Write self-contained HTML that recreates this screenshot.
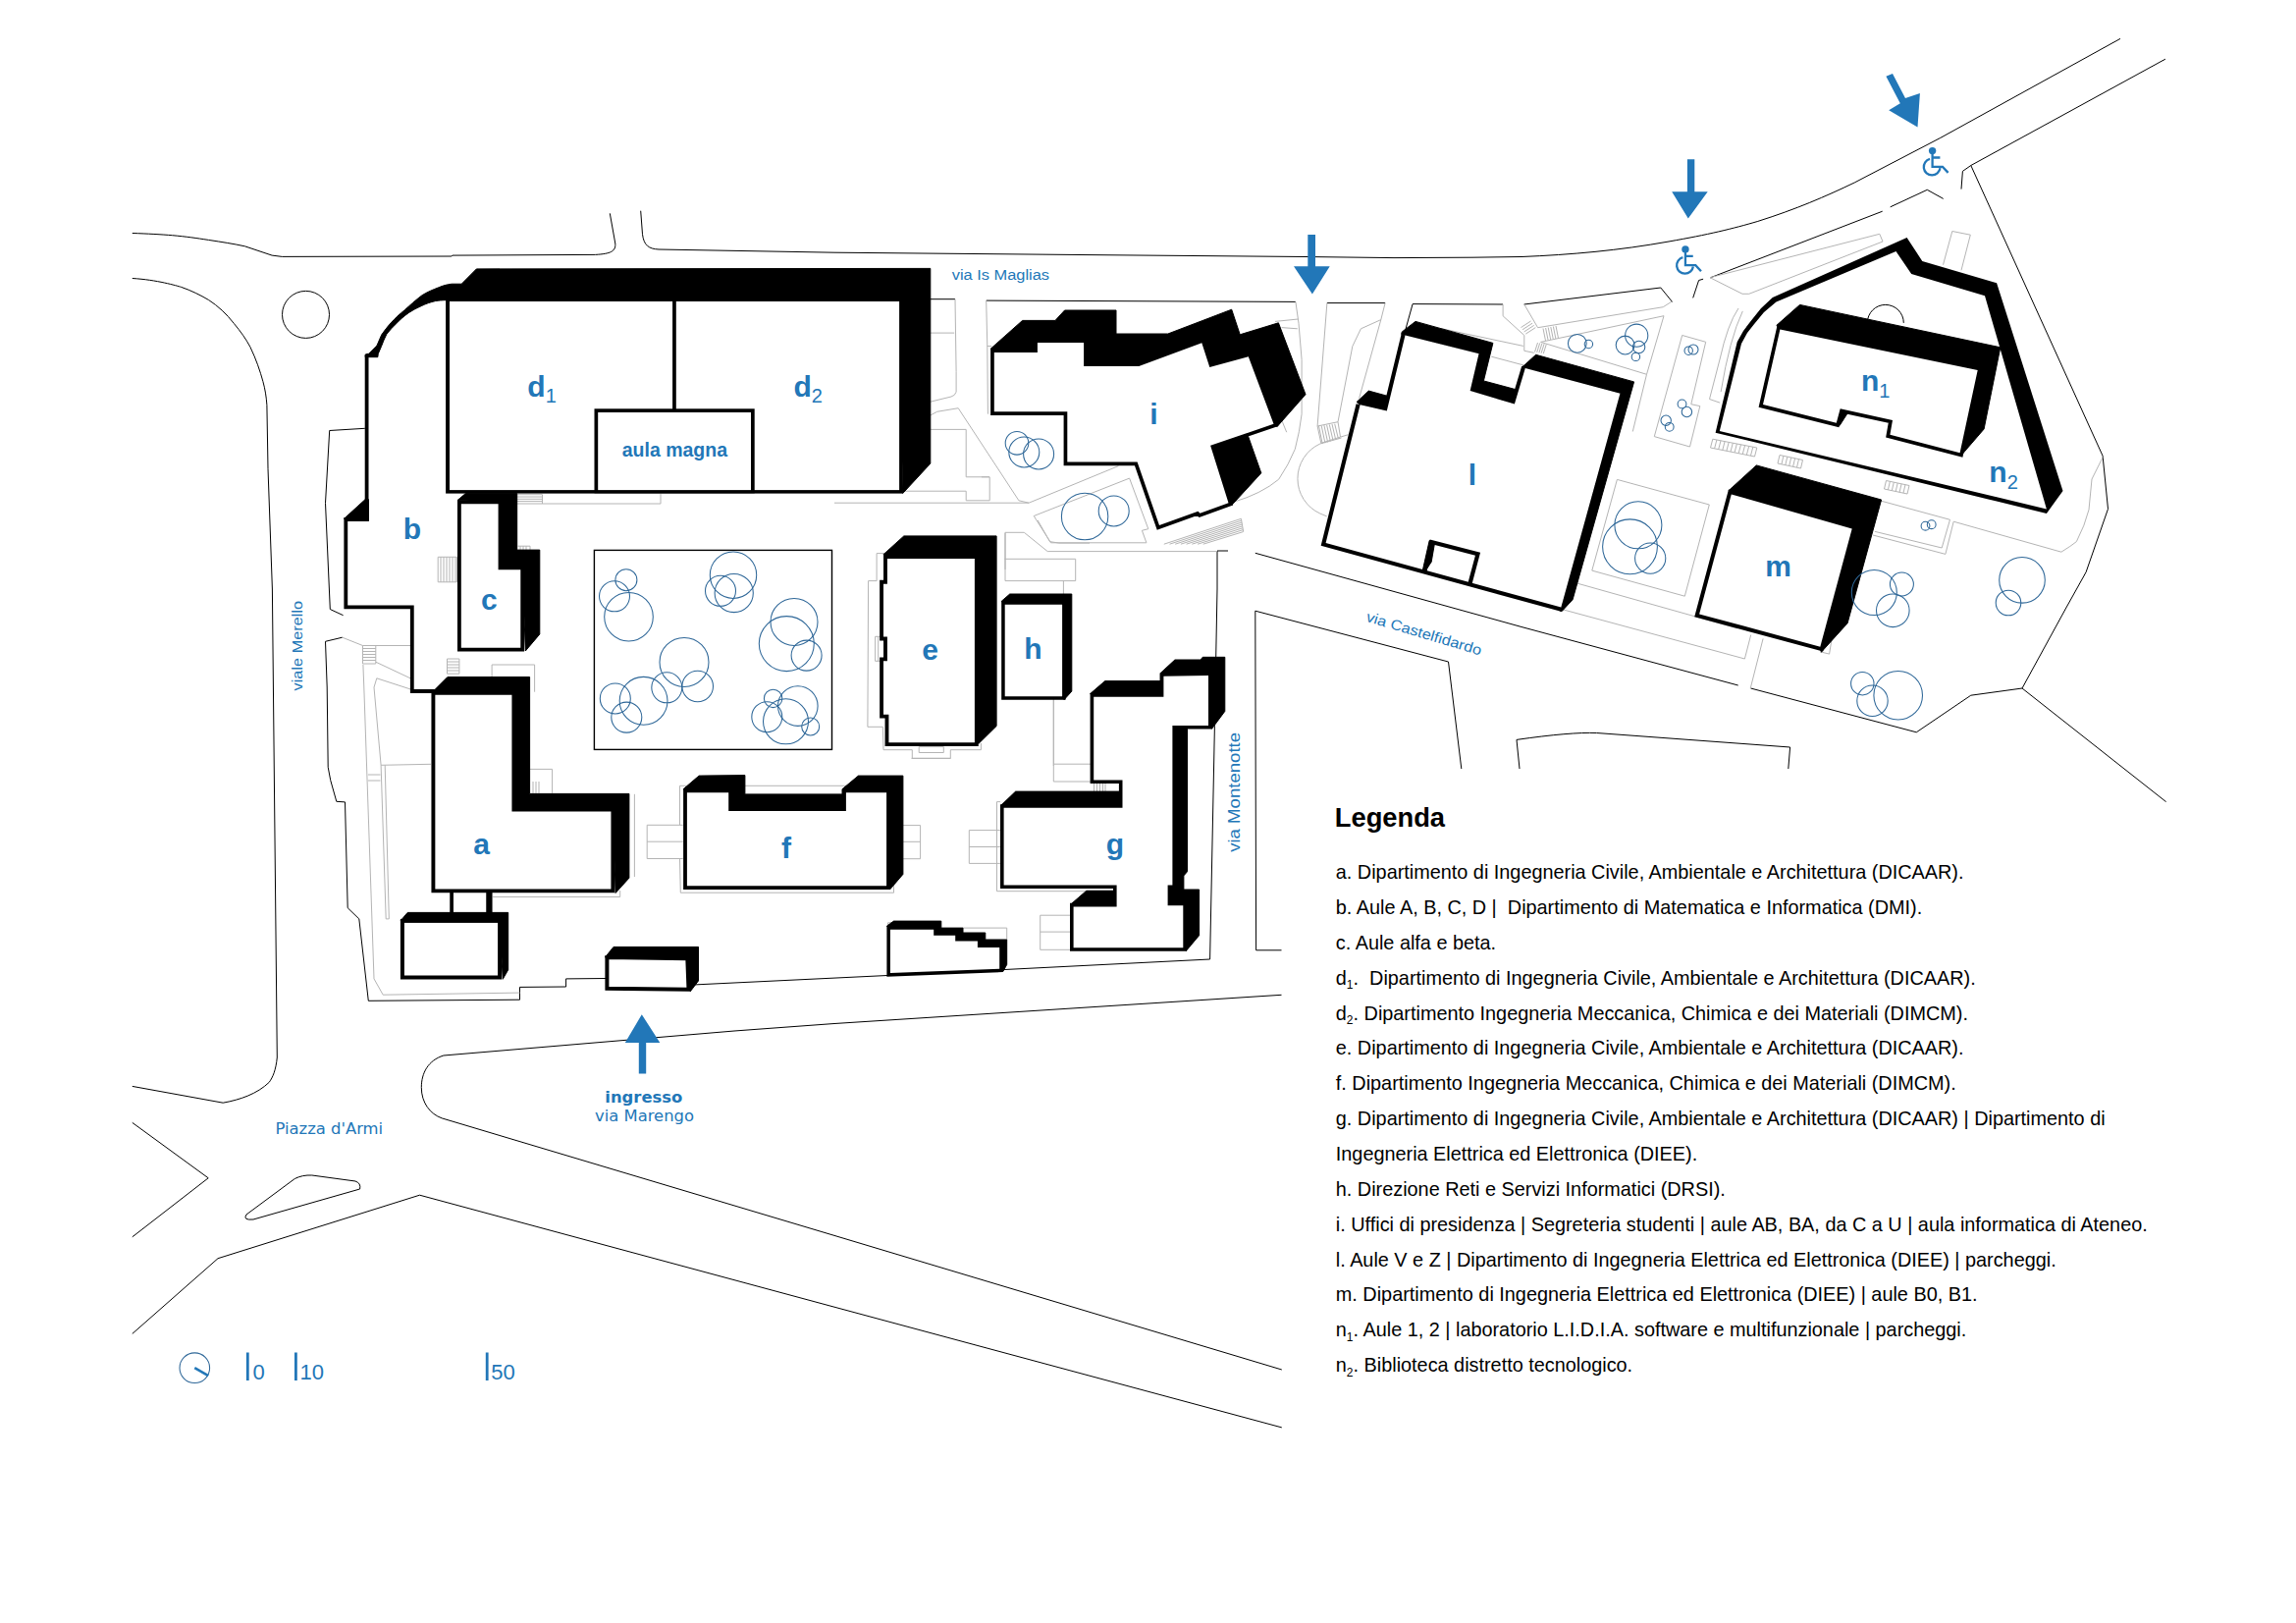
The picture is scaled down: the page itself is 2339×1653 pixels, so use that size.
<!DOCTYPE html>
<html lang="it">
<head>
<meta charset="utf-8">
<title>Mappa Facoltà di Ingegneria</title>
<style>
html,body{margin:0;padding:0;background:#fff;}
body{width:2339px;height:1653px;overflow:hidden;position:relative;font-family:"Liberation Sans",sans-serif;}
svg{position:absolute;left:0;top:0;display:block;}
.rd{fill:none;stroke:#000;stroke-width:1;}
.gl{fill:none;stroke:#b4b4b4;stroke-width:1;}
.sh{fill:#000;stroke:#000;stroke-width:1;stroke-linejoin:miter;}
.bw{fill:#fff;stroke:#000;stroke-width:4;stroke-linejoin:miter;}
.tr{fill:none;stroke:#2e6798;stroke-width:1.05;}
.bl{fill:#2277b8;}
.lab{font-family:"Liberation Sans",sans-serif;font-weight:bold;font-size:30px;fill:#2277b8;text-anchor:middle;}
.st{font-family:"Liberation Sans",sans-serif;font-size:15px;fill:#2277b8;}
.dv{font-family:"DejaVu Sans",sans-serif;fill:#2277b8;text-anchor:middle;}
.lg{font-family:"Liberation Sans",sans-serif;font-size:19.7px;fill:#000;white-space:pre;}
</style>
</head>
<body>
<svg width="2339" height="1653" viewBox="0 0 2339 1653">
<rect x="0" y="0" width="2339" height="1653" fill="#fff"/>

<!-- ROADS -->
<g class="rd" id="roads">
<path d="M134.8,237.5 C150,238 165,238.8 175.5,239.7 C190,241 200,242.5 212.4,244.4 C226,246.5 238,248.3 249.4,250.8 L277.1,260.1 L287.3,261.4 L460.1,261 L461,260.1 L606.5,259.4 C622,258.5 627.5,256 626.8,248 L621.3,217.3"/>
<path d="M652.7,214.7 L654.5,238.7 C656,250 661,253.5 671,254 L850,257.2 L1100,259.5 L1330,261.5 L1420,262.6 L1500,262.2 L1550,261.5 C1600,259.5 1650,255 1700,246 C1740,239 1765,233 1790.8,225.4 C1830,213 1860,200 1889.2,186 L1976.8,140.4 L2160,39.4"/>
<path d="M134.8,283.5 C160,285 180,291 184.7,292.4 C195,296 204,300.5 212.4,305.4 C222,311.5 231,320 238.3,329.4 C245,337.5 250.5,345 254.9,353.4 C261,366 265,378 267.9,388.5 C270,396 271.3,404 271.9,412.6 L273,477.3 L277.4,600 L282.3,1077 C281,1090 278,1097 274.2,1102.3 C262,1114 245,1120 227.2,1123.2 L134.8,1106.4"/>
<path d="M134.8,1143.4 L212.2,1199.8 L134.8,1259.8"/>
<path d="M300.3,1200.5 Q308,1196.5 317.8,1197 L362,1203 Q368,1205 366.6,1211 L258,1242 Q247,1243 251,1237 Z"/>
<path d="M134.8,1358.4 L222,1281.7 L427.5,1217.2 L850,1331.2 L1305.8,1453.9"/>
<path d="M1305.5,1013.3 L850,1042.5 L748,1050 L451.9,1075 C436,1080 429.3,1093 429.3,1107.5 C429.3,1123 438,1134.5 450.2,1138.9 L850,1258.4 L1305.8,1395"/>
<path d="M371.8,436.3 L335.7,438.5 L331.5,512.4 L336.3,620.5 L349.6,626.7"/>
<path d="M348.7,649.2 L331.5,653.3"/>
<path d="M331.5,653.3 L333.2,700 L334.2,781.3 L336.7,794.6 L342.8,816.3 L351.5,816.9 L354.2,924.7 L365.8,935.9 L375.3,1019.3 L529.5,1018.2 L529.5,1005.4 L576.6,1005 L576.6,996.9 L617,996.5"/>
<path d="M706,1003 L900,993.7 L1232.6,977 L1237.4,739.7 L1240,600 L1240,561 L1251,561"/>
<path d="M1278.8,563.3 L1550,638.5 L1770.7,698"/>
<path d="M1305.5,967.8 L1279.6,967.8 L1278.8,622.2 L1475.5,674 L1488.8,783"/>
<path d="M1548,783 L1545,753.4 Q1600,745.5 1626.6,746.5 L1823.6,761 L1821.8,783"/>
<path d="M1783.5,701 L1952.3,745.8 L2007.8,708.2 L2060,701 L2104.3,620 L2125.1,582.7 L2147.5,518.3 L2142.1,464.3 L2007.8,168.5 L2205.9,60.2"/>
<path d="M2060,701 L2206.6,816.6"/>
<path d="M2007.8,168.5 L1999.4,174.4 L1998,192.6"/>
<path d="M1724.7,303.4 L1730.6,285.5 L1735.1,284.2 M1742.2,282.9 L1917.7,215.2"/>
<path d="M1925.7,210.8 L1963.3,193.3 L1979.7,202.4"/>
<path d="M1552.6,310 L1691.8,293 L1703.6,307.5"/>
<path d="M1351.9,308.6 L1411.1,308.6 M1431.4,337.3 L1439.1,309.6 L1531,310"/>
<path d="M947.8,304.7 L973,304.7 M1004.8,306.1 L1319.9,307.4"/>
<circle cx="311.5" cy="320.4" r="24"/>
</g>


<!-- GRAY DETAILS -->
<g class="gl" id="gray">
<path d="M348.7,649.2 L369.5,657.5 L418,657.5 M382.8,674.2 L418,690.8 M369.9,677 L370.8,700 L381,996.9 L390.2,1013.2 L529.5,1011.1 M383.8,690.8 L418,701.9 M383.8,690.8 L381,700 L388.1,779.3 L439,778.3"/>
<path d="M388.1,779.3 L393.2,935.9 L396.3,935.9 L392.2,779.3 M374.9,789 L387.5,789 M374.9,795 L387.5,795"/>
<path d="M369.5,657.5 L382.8,657.5 L382.8,676 L369.5,676 Z M369.5,660.5 H382.8 M369.5,663.5 H382.8 M369.5,666.5 H382.8 M369.5,669.5 H382.8 M369.5,672.5 H382.8"/>
<path d="M446.2,567.3 H465.5 V592.8 H446.2 Z M449,567.3 V592.8 M452,567.3 V592.8 M455,567.3 V592.8 M458,567.3 V592.8 M461,567.3 V592.8 M464,567.3 V592.8"/>
<path d="M455.5,671 H467.9 V686.2 H455.5 Z M455.5,674 H467.9 M455.5,677 H467.9 M455.5,680 H467.9 M455.5,683 H467.9"/>
<path d="M527.6,556.2 H540 V560 M530,556.2 V560 M533,556.2 V560 M536,556.2 V560"/>
<path d="M527,503.7 H552.5 V513 M527,506 H552.5 M527,508.3 H552.5 M527,510.6 H552.5 M527,513 H673 V503"/>
<path d="M501.1,704.7 V677 H544.6 V704.7"/>
<path d="M539.6,783.4 H562.6 V807.8 M543,796 V807.8 M546,796 V807.8 M549,796 V807.8"/>
<path d="M502,913.5 H631.7 V907"/>
<path d="M646.4,808.8 V893"/>
<path d="M695.8,840.3 H659.2 V874.5 H695.8 M659.2,857.2 H695.8"/>
<path d="M903.1,563.6 H893.1 V591.6 H884.6 L883.9,740.3 H899.3 L900,763.7 H929.3 V772.3 H968.3 V763.7 H999.4 V757 M936.2,760.6 H961.3 M936.2,766.5 H961.3 M936.2,760.6 V766.5 M961.3,760.6 V766.5 M891.6,648.3 H899 M891.6,673.3 H899 M891.6,648.3 V673.3 M894.7,648.3 V673.3 M1024,591.6 V542.3 H1043.3 L1067.2,561.6 H1240 M1023.3,569.3 H1095.7 V591.6 H1024 M1083.4,591.6 V605 M1073.3,712.6 V780 M1057.2,530 L1069.5,551.6 L1078.7,553.1 H1110 M973,304.7 L974.1,378.4 V399.2 Q973,403 969,404 L947.8,409.2 M947.8,339.1 H972.2 M947.8,423 L954.6,419.3 L976.2,415.7 L1037.9,509.8 L1048.1,512.2 L1139.4,474.6 M947.8,437.4 H984.2 V485.8 H1008.2 V509.8 H984.2 V500.2 H920.9 M850,512.2 H1048.1 M1004.7,306 L1005.8,352.8 L1006.4,421.7 M1005.6,352.5 H1010 M1000,485.8 H1008 M1053.2,525.5 L1150.6,487.1 L1169.8,538.7 L1163.4,540.3 L1167.9,552.8 H1070.5 Z M1024,580 V542.7 M1319.9,307.4 L1323,329.3 L1326.1,366.3 V421.7 Q1324,440 1319.3,457.4 Q1313,473 1302.7,488.2 Q1285,503 1256.3,511.4 M1299,327.4 L1322.4,325 M1305.7,333.6 L1321.8,334.8 M1305.7,427.9 L1310.7,440.2 M1185.8,554.2 L1264.4,528.3 M1191.5,554.2 L1264.7,530.2 M1197.2,554.2 L1265.0,532.1 M1202.9,554.2 L1265.3,534.0 M1208.6,554.2 L1265.6,535.9 M1214.3,554.2 L1265.9,537.8 M1220.0,554.2 L1266.2,539.7 M1225.7,554.2 L1266.5,541.6 M1264.4,528.3 L1266.7,541.6  M1351.7,525.9 L1344.8,523 A39,39 0 0 1 1344.8,452 L1366.5,446 M1351.9,308.6 L1342.1,434 L1363,429.7 L1377.8,352.7 L1386.4,334.8 L1406.8,325.6 L1411.1,308.6 M1406.8,325.6 L1384.6,405.7 M1365.5,445.1 L1373.5,442.7 M1342.1,434 L1345.8,451.3 L1365.5,445.1 L1363,429.7 M1343.5,433.8 L1347.2,452.1 M1346.2,433.5 L1349.9,451.2 M1348.9,433.1 L1352.6,450.4 M1351.6,432.8 L1355.3,449.5 M1354.3,432.4 L1358.0,448.6 M1357.0,432.0 L1360.7,447.7 M1359.7,431.7 L1363.4,446.8 M1531.1,310 V321.8 L1552.8,341.5 V357.3 L1562.7,359.3 M1552.8,310 L1566.6,333.7 L1694.3,312.7 L1703.4,306.9 M1569.6,348.4 L1695,321.7 L1677.5,381.3 L1663.3,439.5 M1569.6,348.4 L1677.5,381.3 M1468,334.6 L1551.8,352.4 M1519.3,363.2 L1552.8,372.1 M1572.0,334.5 L1574.5,347.0 M1574.6,334.0 L1577.1,346.5 M1577.2,333.5 L1579.7,346.0 M1579.8,333.0 L1582.3,345.5 M1582.4,332.5 L1584.9,345.0 M1585.0,332.0 L1587.5,344.5 M1566.5,349.0 L1563.5,358.5 M1568.7,349.4 L1565.7,358.9 M1570.9,349.8 L1567.9,359.3 M1573.1,350.2 L1570.1,359.7 M1575.3,350.6 L1572.3,360.1 M1549.5,333.5 L1559.5,327.0 M1551.1,335.7 L1561.1,329.2 M1552.7,337.9 L1562.7,331.4 M1554.3,340.1 L1564.3,333.6 M1713.7,341.5 L1737.7,348.3 L1722.8,411.7 L1731.8,413.6 L1721.5,455 L1685.3,444.6 Z M1647.4,488.4 L1741.3,514 L1716.3,607.2 L1621.8,581.1 Z M1606,593.9 L1770,640 M1775.3,316.9 Q1762,345 1753.1,399.1 M1741.5,406.5 L1752.2,410.2 M1741.5,406.5 L1752,366 Q1760,330 1771,314 M1742,282.7 L1914.8,238.3 L1918,246 L1781.8,299.3 L1775,299.3 Z M1988.8,235.5 L2007.3,239.2 L1998,275.3 M1979.5,269.7 L1988.8,235.5 M1744.8,447.2 L1789.8,456 L1787.5,465 L1742.5,456 Z M1748.9,448.0 L1746.6,456.8 M1753.0,448.8 L1750.7,457.6 M1757.1,449.6 L1754.8,458.4 M1761.2,450.4 L1758.9,459.2 M1765.3,451.2 L1763.0,460.0 M1769.4,452.0 L1767.1,460.8 M1773.5,452.8 L1771.2,461.6 M1777.6,453.6 L1775.3,462.4 M1781.7,454.4 L1779.4,463.2 M1785.8,455.2 L1783.5,464.0 M1813,463.5 L1836.5,468.5 L1834.5,477 L1811,472 Z M1816.9,464.3 L1814.9,472.8 M1820.8,465.2 L1818.8,473.7 M1824.7,466.0 L1822.7,474.5 M1828.6,466.8 L1826.6,475.3 M1832.5,467.6 L1830.5,476.1 M1921.5,489.5 L1945,494.5 L1943,503 L1919.5,498 Z M1925.4,490.3 L1923.4,498.8 M1929.3,491.2 L1927.3,499.7 M1933.2,492.0 L1931.2,500.5 M1937.1,492.8 L1935.1,501.3 M1941.0,493.6 L1939.0,502.1 M1783.2,701.2 L1796.1,650.4 M1592.1,620.8 L1777.4,671 L1783.7,646.6 M1915.3,509.9 L1986.5,529.3 L1978.2,558 L1909.8,541.3 M1990.2,531.2 L1981.9,564.4 L1908,545 M1990.2,531.2 L2099.9,562.2 Q2110,556 2115.4,551.6 Q2124,535 2128,519.1 L2131,488 L2142.1,465.8 M1866.4,648.5 L1863.6,666.1 L1855,664 M699,800.3 H692.5 V840.1 M692.5,874.6 L693.3,909.2 H910.5 V901.7 M758.9,800.3 H862.7 M919.9,840.6 H937.6 V874.7 H919.9 M919.9,857.3 H937.6 M1020,845.6 H987.3 V879.4 H1020 M987.3,862.5 H1020 M1019,816.6 H1015.5 V907.7 H1137 M904.5,943 V939.8 H912 M981,945.1 H1025.7 V957 M928.5,772.4 H968.5 M1073.3,711.8 V796 H1111 M1073.3,778.2 H1111 M1059.7,932.2 H1091 M1059.7,932.2 V967.3 H1091 M1059.7,949.1 H1091 M1114.5,798 V806 M1117.5,798 V806 M1120.5,798 V806 M1123.5,798 V806 M1126,798 V806"/>
</g>

<!-- BUILDINGS -->
<g id="buildings">
<!-- d -->
<path class="sh" d="M372.2,361 L375.7,360.2 L384,351.9 L388.7,341 C391.5,337 394.5,333 398.3,328.8 C402.5,324 407,320 412.3,315.7 C417.5,311 423,306 429.7,300.9 C435,297.5 441,295 447.1,292.7 C451,291 455,289.8 460.2,289.2 L470.2,289.2 L485.4,273.9 L947.8,273.4 L947.8,472.1 L919.6,502.6 L916.1,307 L454.1,305.7 C450,305.8 447,306 443.6,306.6 C438.5,307.8 434,309.3 429.7,311.4 C425,313.5 420.5,315.8 416.6,318.4 C411.5,322 407.5,325.5 403.6,329.7 C400,333 397,336.5 394,340.1 C392,344 390.2,348 388.7,352.3 L385.3,360.2 L384.8,363.7 L372.2,363.7 Z"/>
<rect x="454.1" y="305" width="465" height="197.6" fill="#000"/>
<rect x="458" y="307" width="458.1" height="192.1" fill="#fff"/>
<rect x="685.1" y="307" width="3.7" height="112" fill="#000"/>
<rect x="605.5" y="416.3" width="163.2" height="86" fill="#000"/>
<rect x="609.2" y="420" width="155.8" height="79.1" fill="#fff"/>
<!-- b -->
<path class="sh" d="M372,508.7 L350.5,528.3 L375.5,530.5 L375.5,508.7 Z"/>
<path d="M373.6,361.8 L373.6,529 L352.3,529 L352.3,618.3 L419.8,618.3 L419.8,704 L443,704" fill="none" stroke="#000" stroke-width="3.8"/>
<!-- c -->
<path class="sh" d="M466,509.6 L474.3,502.6 L526.7,502.6 L526.7,560.1 L549.8,560.1 L549.8,645.9 L535.3,663 L532.2,578.4 L509.5,578.4 L509.5,511.3 Z"/>
<path class="bw" style="stroke-width:3.8" d="M467.9,511.4 L509.5,511.4 L509.5,578.4 L532.2,578.4 L532.2,661.7 L467.9,661.7 Z"/>
<!-- a -->
<path class="sh" d="M441.4,704 L455.9,689.5 L539.6,689.5 L539.6,808.4 L640.9,808.4 L640.9,894.2 L627.1,909.5 L624.4,824.5 L523.4,824.5 L523.4,705.7 Z"/>
<path class="bw" style="stroke-width:3.9" d="M441.4,705.7 L523.4,705.7 L523.4,824.5 L624.4,824.5 L624.4,907.4 L441.4,907.4 Z"/>
<path d="M460.1,907 L460.1,932" stroke="#000" stroke-width="3.7" fill="none"/><path d="M498.4,907 L498.4,932" stroke="#000" stroke-width="6.3" fill="none"/>
<path class="sh" d="M408,937.9 L415.2,929.4 L517.7,929.4 L517.7,987.7 L512.2,997.3 L509.1,937.9 Z"/>
<rect class="bw" x="409.9" y="937.9" width="99.2" height="57.6"/>
<path class="sh" d="M616.5,975 L625,964.4 L711.5,964.4 L711.5,998.9 L703.3,1009.7 L700.3,976.2 Z"/>
<path class="bw" d="M618.4,975 L700.3,976.2 L701.5,1007.7 L618.4,1006.7 Z"/>
<!-- f -->
<path class="sh" d="M696.1,803.7 L712.1,790.1 L758.9,789.6 L758.9,808.9 L858,808.9 L858,803.7 L874.4,790.1 L919.9,790.1 L919.9,890.4 L906.6,905.9 L903.1,902.2 L903.1,807.2 L861.9,807.2 L861.9,826 L742.2,826 L742.2,807.2 L699.9,807.2 Z"/>
<path d="M699.9,807.2 L742.2,807.2 L742.2,826 L861.9,826 L861.9,807.2 L903.1,807.2 L903.1,902.2 L699.9,902.2 Z" fill="#000" stroke="#000" stroke-width="7.6" stroke-linejoin="miter" stroke-miterlimit="6"/>
<path d="M699.9,807.2 L742.2,807.2 L742.2,826 L861.9,826 L861.9,807.2 L903.1,807.2 L903.1,902.2 L699.9,902.2 Z" fill="#fff"/>
<!-- e -->
<path class="sh" d="M900,564.7 L920.8,545.9 L1015.1,545.9 L1015.1,739.5 L997.1,757.2 L992.9,756.2 L992.9,569 L903.9,569 Z"/>
<path d="M903.9,569 L992.9,569 L992.9,756.2 L905.4,756.2 L905.4,727.7 L900,727.7 L900,673.3 L903.9,673.3 L903.9,648.6 L900,648.6 L900,594.7 L903.9,594.7 Z" fill="#000" stroke="#000" stroke-width="7.7" stroke-linejoin="miter" stroke-miterlimit="6"/>
<path d="M903.9,569 L992.9,569 L992.9,756.2 L905.4,756.2 L905.4,727.7 L900,727.7 L900,673.3 L903.9,673.3 L903.9,648.6 L900,648.6 L900,594.7 L903.9,594.7 Z" fill="#fff"/>
<!-- h -->
<path class="sh" d="M1020.2,612.4 L1028.7,605 L1091.8,605 L1091.8,704.1 L1084.1,712.6 L1082.1,709.2 L1082.1,615.8 L1023.7,615.8 Z"/>
<path d="M1023.7,615.8 L1082.1,615.8 L1082.1,709.2 L1023.7,709.2 Z" fill="#000" stroke="#000" stroke-width="7.0" stroke-linejoin="miter" stroke-miterlimit="6"/>
<path d="M1023.7,615.8 L1082.1,615.8 L1082.1,709.2 L1023.7,709.2 Z" fill="#fff"/>
<!-- g -->
<path class="sh" d="M1110.6,706.6 L1125.7,693.6 L1182.2,693.6 L1182.2,685.6 L1196.9,672 L1223.1,672 L1225.2,669.3 L1247.8,669.3 L1247.8,724.4 L1234.6,742.2 L1231,739 L1231,688 L1185.4,688.8 L1185.4,709.7 L1114.2,709.7 Z"/>
<path class="sh" d="M1194.4,739 L1209.5,742.2 L1209.5,887.7 L1205.9,891.9 L1205.9,906 L1221.6,906 L1221.6,952.7 L1208.4,968.4 L1205.3,965.2 L1205.3,922.3 L1189.6,922.3 L1189.6,901.4 L1194.4,901.4 Z"/>
<path class="sh" d="M1019.3,820.7 L1034.6,806.1 L1143.5,806.1 L1143.5,822.8 L1022.6,822.8 Z"/>
<path class="sh" d="M1090.5,921.3 L1106.8,907.2 L1137.6,907.2 L1137.6,923.4 L1093.6,923.4 Z"/>
<path d="M1114.2,709.7 L1185.4,709.7 L1185.4,688.8 L1231,688 L1231,739 L1194.4,739 L1194.4,901.4 L1189.6,901.4 L1189.6,922.3 L1205.3,922.3 L1205.3,965.2 L1093.6,965.2 L1093.6,923.4 L1137.6,923.4 L1137.6,901.4 L1022.6,901.4 L1022.6,822.8 L1143.5,822.8 L1143.5,794.5 L1114.2,794.5 Z" fill="#000" stroke="#000" stroke-width="7.2" stroke-linejoin="miter" stroke-miterlimit="6"/>
<path d="M1114.2,709.7 L1185.4,709.7 L1185.4,688.8 L1231,688 L1231,739 L1194.4,739 L1194.4,901.4 L1189.6,901.4 L1189.6,922.3 L1205.3,922.3 L1205.3,965.2 L1093.6,965.2 L1093.6,923.4 L1137.6,923.4 L1137.6,901.4 L1022.6,901.4 L1022.6,822.8 L1143.5,822.8 L1143.5,794.5 L1114.2,794.5 Z" fill="#fff"/>
<!-- stepped -->
<path class="sh" d="M903.4,943.2 L910.5,938.1 L958.8,938.1 L958.8,945.1 L981,945.1 L981,950 L1003.8,950 L1003.8,957 L1025.7,957 L1025.7,982.4 L1021.8,989.5 L1018.2,986.7 L1018.2,964.9 L995.9,964.9 L995.9,958.6 L973.2,958.6 L973.2,952.7 L951.2,952.7 L951.2,946.7 L906.9,946.7 Z"/>
<path d="M906.9,946.7 L951.2,946.7 L951.2,952.7 L973.2,952.7 L973.2,958.6 L995.9,958.6 L995.9,964.9 L1018.2,964.9 L1018.2,986.7 L906.9,991.1 Z" fill="#000" stroke="#000" stroke-width="7.0" stroke-linejoin="miter" stroke-miterlimit="6"/>
<path d="M906.9,946.7 L951.2,946.7 L951.2,952.7 L973.2,952.7 L973.2,958.6 L995.9,958.6 L995.9,964.9 L1018.2,964.9 L1018.2,986.7 L906.9,991.1 Z" fill="#fff"/>
<!-- i -->
<path class="sh" d="M1009.1,355.3 L1041.6,326.4 L1075,326.4 L1084.6,316 L1137,316 L1137,340 L1189.8,340 L1254.7,315.2 L1263.2,340.8 L1302.4,328.8 L1330,401.7 L1301.1,434.5 L1297.5,431.7 L1271.8,363.3 L1232.3,374 L1224.3,349.3 L1160.2,372.9 L1104.1,372.9 L1104.1,348.9 L1056.9,348.9 L1056.9,358.9 L1012.8,358.9 Z"/>
<path class="sh" d="M1233.1,453.8 L1271.5,444.2 L1284.8,481.8 L1254.7,514.6 L1251.5,512.2 Z"/>
<path d="M1012.8,358.9 L1056.9,358.9 L1056.9,348.9 L1104.1,348.9 L1104.1,372.9 L1160.2,372.9 L1224.3,349.3 L1232.3,374 L1271.8,363.3 L1297.5,431.7 L1233.1,453.8 L1251.5,512.2 L1222.5,522.8 L1220.5,520.8 L1181,535.1 L1158.6,470.6 L1087.3,470.6 L1087.3,419.3 L1012.8,419.3 Z" fill="#000" stroke="#000" stroke-width="7.4" stroke-linejoin="miter" stroke-miterlimit="6"/>
<path d="M1012.8,358.9 L1056.9,358.9 L1056.9,348.9 L1104.1,348.9 L1104.1,372.9 L1160.2,372.9 L1224.3,349.3 L1232.3,374 L1271.8,363.3 L1297.5,431.7 L1233.1,453.8 L1251.5,512.2 L1222.5,522.8 L1220.5,520.8 L1181,535.1 L1158.6,470.6 L1087.3,470.6 L1087.3,419.3 L1012.8,419.3 Z" fill="#fff"/>
<!-- l -->
<path class="sh" d="M1431.5,341.5 L1427.6,340.4 L1428.3,337.9 L1442,327.4 L1520.9,349.4 L1511.4,387.9 L1547.9,397.7 L1542.9,411.5 L1497.6,398.1 L1506.5,360.3 Z"/>
<path class="sh" d="M1553.8,375.1 L1550,374 L1552.8,372.1 L1564.6,361.3 L1664.6,388.9 L1602.1,610.7 L1591.2,622.5 L1589.3,622.4 L1590.3,618.6 L1650.4,400.7 Z"/>
<path class="sh" d="M1382.1,409.4 L1394.3,398.1 L1413.8,403.4 L1412.8,418.5 L1385.6,412.2 Z"/>
<path d="M1412.8,418.5 L1431.5,341.5 M1385.6,412.2 L1350.6,552.9 L1590.3,618.6 M1542.9,411.5 L1553.8,375.1" fill="none" stroke="#000" stroke-width="8.2" stroke-linejoin="miter" stroke-linecap="butt"/>
<path d="M1431.5,341.5 L1506.5,360.3 L1497.6,398.1 L1542.9,411.5 L1553.8,375.1 L1650.4,400.7 L1590.3,618.6 L1350.6,552.9 L1385.6,412.2 L1412.8,418.5 Z" fill="#fff"/>
<path d="M1451.4,581.8 L1458.3,552 L1505.5,564.3 L1497.6,593.9" fill="none" stroke="#000" stroke-width="4.2"/>
<path class="sh" d="M1449.3,581.1 L1456.2,550.5 L1461.7,552.1 L1458.2,572.2 L1451.8,582.1 Z"/>
<!-- m -->
<path class="sh" d="M1761,499.7 L1789.3,473.9 L1916.6,509 L1882.1,634.7 L1855.3,664.3 L1854.3,658.7 L1886.7,538.6 L1763.8,503.4 Z"/>
<path d="M1763.8,503.4 L1886.7,538.6 L1854.3,658.7 L1731.1,625.4 Z" fill="#000" stroke="#000" stroke-width="8.0" stroke-linejoin="miter" stroke-miterlimit="6"/>
<path d="M1763.8,503.4 L1886.7,538.6 L1854.3,658.7 L1731.1,625.4 Z" fill="#fff"/>
<!-- n2 -->
<path d="M1747.6,440.7 L1769.7,348.3 L1776,337 L1783.6,327 L1794,314 L1805.8,303 L1942.6,242 L1958.3,266 L2034.1,288.2 L2101.5,499.9 L2084.9,523 Z" fill="#000"/>
<path d="M1931.5,255.9 L1947.2,279 L2022,301.2 L2084.9,518.4 L1751.8,438.9 L1774,350.1 L1780,339 L1787.3,329.8 L1797,318 L1809.5,307.6 Z" fill="#fff"/>
<path class="rd" d="M1902.3,328.9 A18.5,18.5 0 0 1 1939.3,328.9"/>
<!-- n1 -->
<path class="sh" d="M1809.9,331.3 L1833.5,310.4 L2037.8,353.8 L2021.1,437 L1997.1,464.8 L1996.6,461.2 L2014.7,377 L1813.4,335.6 Z"/>
<path class="sh" d="M1874.5,417 L1883,419.5 L1874,433.5 L1871,432.5 Z"/>
<path d="M1813.4,335.6 L2014.7,377 L1996.6,461.2 L1925.4,442.8 L1928,428 L1874.7,416.3 L1870.8,430.7 L1796,412 Z" fill="#000" stroke="#000" stroke-width="7.4" stroke-linejoin="miter" stroke-miterlimit="6"/>
<path d="M1813.4,335.6 L2014.7,377 L1996.6,461.2 L1925.4,442.8 L1928,428 L1874.7,416.3 L1870.8,430.7 L1796,412 Z" fill="#fff"/>
</g>

<!-- GARDEN + TREES -->
<rect class="rd" style="stroke-width:1.4" x="605.4" y="560.4" width="242.1" height="203"/>
<g class="tr" id="trees">
<circle cx="637.9" cy="590.7" r="11"/><circle cx="626" cy="607.3" r="15.5"/><circle cx="640.5" cy="628.2" r="24.8"/>
<circle cx="747" cy="585.7" r="23.7"/><circle cx="734" cy="601.8" r="15.5"/><circle cx="747.7" cy="604" r="19.6"/>
<circle cx="809" cy="633.4" r="24"/><circle cx="801.3" cy="655.6" r="28"/><circle cx="821.6" cy="667.6" r="15.5"/>
<circle cx="697" cy="674.4" r="25"/><circle cx="679.3" cy="700.3" r="15.5"/><circle cx="710.7" cy="699" r="15.8"/>
<circle cx="655.6" cy="713.8" r="24.4"/><circle cx="626.8" cy="711.4" r="15.5"/><circle cx="638.3" cy="730.6" r="15.5"/>
<circle cx="812.8" cy="719.1" r="20.3"/><circle cx="787.6" cy="711.4" r="9.2"/><circle cx="781.3" cy="730.2" r="15.5"/><circle cx="800.5" cy="734.8" r="23"/><circle cx="825.7" cy="740" r="9"/>
<circle cx="1036" cy="451.3" r="11.8"/><circle cx="1043.3" cy="460.5" r="15.5"/><circle cx="1058.1" cy="462.4" r="15.5"/>
<circle cx="1105.1" cy="526" r="23.7"/><circle cx="1134.7" cy="520.4" r="15.5"/>
<circle cx="1606.8" cy="349.8" r="9.4"/><circle cx="1618.4" cy="350.5" r="4.2"/>
<circle cx="1667.2" cy="341.7" r="11.6"/><circle cx="1655.6" cy="351.5" r="9.4"/><circle cx="1669.6" cy="353.5" r="6.2"/><circle cx="1666.4" cy="363.4" r="4.2"/>
<circle cx="1720.2" cy="357.2" r="4.2"/><circle cx="1725" cy="356" r="5"/>
<circle cx="1713.5" cy="411.4" r="4.4"/><circle cx="1718.4" cy="419.5" r="5.2"/>
<circle cx="1697.2" cy="428.2" r="5.2"/><circle cx="1700.7" cy="434.8" r="4.4"/>
<circle cx="1668.9" cy="534.8" r="24"/><circle cx="1660.5" cy="556.8" r="27.9"/><circle cx="1681.2" cy="568.6" r="15.6"/>
<circle cx="1909.3" cy="603.5" r="23"/><circle cx="1937.4" cy="595" r="12"/><circle cx="1928.3" cy="621.8" r="16.8"/>
<circle cx="2060" cy="590.8" r="23.3"/><circle cx="2046" cy="614" r="12.8"/>
<circle cx="1897.3" cy="696.2" r="11.7"/><circle cx="1907.5" cy="713.7" r="15.7"/><circle cx="1933.7" cy="708.2" r="24.8"/>
<circle cx="1961.5" cy="535.7" r="4.4"/><circle cx="1967.7" cy="534.2" r="4.4"/>
</g>

<!-- ARROWS + ICONS -->
<g class="bl" id="arrows">
<path d="M1332.3,239 L1340,239 L1340,271.2 L1354.7,271.2 L1336.9,299.6 L1318,271.2 L1332.3,271.2 Z"/>
<path d="M1718.9,162.3 L1726.3,162.3 L1726.3,195.2 L1739.7,195.2 L1719.8,222.5 L1703.2,195.2 L1718.9,195.2 Z"/>
<path d="M1921.4,77.7 L1928,75.1 L1941,100.1 L1955.9,94.9 L1953.5,129.5 L1924.2,112.2 L1935.8,105.3 Z"/>
<path d="M653.8,1033.3 L672.3,1062 L658.2,1062 L658.2,1093.5 L650.8,1093.5 L650.8,1062 L636.8,1062 Z"/>
</g>
<defs>
<g id="wch">
<circle cx="0" cy="0" r="3.7" fill="#2277b8"/>
<path d="M0,3 L0,16.3 L10.4,16.3 L16,22.3 M0,6.9 L7.8,6.9" fill="none" stroke="#2277b8" stroke-width="2.3"/>
<path d="M-2.6,8.3 A8.4,8.4 0 1 0 7.9,17.6" fill="none" stroke="#2277b8" stroke-width="2.3"/>
</g>
</defs>
<use href="#wch" x="1716.95" y="253.9"/>
<use href="#wch" x="1968.6" y="153.6"/>

<!-- COMPASS + SCALE -->
<circle cx="198.3" cy="1393.2" r="15.3" class="tr"/>
<path d="M198.3,1393.2 L212.2,1401.2" stroke="#2277b8" stroke-width="2.6" fill="none"/>
<g class="bl">
<rect x="250.9" y="1377.5" width="2.8" height="28.5"/>
<rect x="300" y="1377.5" width="2.8" height="28.5"/>
<rect x="494.8" y="1377.5" width="2.8" height="28.5"/>
</g>
<g style="font-family:'Liberation Sans',sans-serif;font-size:22px;fill:#2277b8">
<text x="257.5" y="1405.4">0</text>
<text x="305.5" y="1405.4">10</text>
<text x="500.3" y="1405.4">50</text>
</g>

<!-- LABELS -->
<g class="lab" style="text-anchor:start">
<text x="537.3" y="403.9">d<tspan dy="6.4" style="font-weight:normal;font-size:20px">1</tspan></text>
<text x="808.4" y="403.9">d<tspan dy="6.4" style="font-weight:normal;font-size:20px">2</tspan></text>
<text x="1896" y="398.3">n<tspan dy="6.4" style="font-weight:normal;font-size:20px">1</tspan></text>
<text x="2026.3" y="491.4">n<tspan dy="6.4" style="font-weight:normal;font-size:20px">2</tspan></text>
</g>
<g class="lab">
<text x="419.8" y="548.5">b</text>
<text x="498.4" y="621.3">c</text>
<text x="490.6" y="869.9">a</text>
<text x="800.9" y="874.3">f</text>
<text x="947.5" y="672.4">e</text>
<text x="1052.4" y="670.5">h</text>
<text x="1175.5" y="431.7">i</text>
<text x="1500" y="494.4">l</text>
<text x="1136" y="870">g</text>
<text x="1811.7" y="587.1">m</text>
<text x="687.4" y="464.6" style="font-size:19.5px">aula magna</text>
</g>
<g class="st" style="font-size:14.7px">
<text transform="translate(969.8,284.9) scale(1.115,1)">via Is Maglias</text>
<text transform="translate(307.8,703.4) rotate(-90) scale(1.11,1)">viale Merello</text>
<text transform="translate(1263.4,867.8) rotate(-90) scale(1.1,1)" style="font-size:16.9px">via Montenotte</text>
<text transform="translate(1391,632.5) rotate(16.7) scale(1.115,1)">via Castelfidardo</text>
</g>
<g class="dv" style="font-size:16.4px">
<text x="335.3" y="1155.2">Piazza d'Armi</text>
<text x="655.8" y="1122.5" style="font-weight:bold">ingresso</text>
<text x="656.5" y="1142.3">via Marengo</text>
</g>

<!-- LEGEND -->
<text x="1359.8" y="841.7" style="font-family:'Liberation Sans',sans-serif;font-weight:bold;font-size:27.3px;fill:#000">Legenda</text>
<g class="lg" style="font-size:19.85px" xml:space="preserve">
<text x="1360.8" y="895">a. Dipartimento di Ingegneria Civile, Ambientale e Architettura (DICAAR).</text>
<text x="1360.8" y="930.9">b. Aule A, B, C, D |&#160; Dipartimento di Matematica e Informatica (DMI).</text>
<text x="1360.8" y="966.7">c. Aule alfa e beta.</text>
<text x="1360.8" y="1002.6">d<tspan dy="4.5" style="font-size:12px">1</tspan><tspan dy="-4.5">.&#160; Dipartimento di Ingegneria Civile, Ambientale e Architettura (DICAAR).</tspan></text>
<text x="1360.8" y="1038.5">d<tspan dy="4.5" style="font-size:12px">2</tspan><tspan dy="-4.5">. Dipartimento Ingegneria Meccanica, Chimica e dei Materiali (DIMCM).</tspan></text>
<text x="1360.8" y="1074.4">e. Dipartimento di Ingegneria Civile, Ambientale e Architettura (DICAAR).</text>
<text x="1360.8" y="1110.2">f. Dipartimento Ingegneria Meccanica, Chimica e dei Materiali (DIMCM).</text>
<text x="1360.8" y="1146">g. Dipartimento di Ingegneria Civile, Ambientale e Architettura (DICAAR) | Dipartimento di</text>
<text x="1360.8" y="1182">Ingegneria Elettrica ed Elettronica (DIEE).</text>
<text x="1360.8" y="1217.8">h. Direzione Reti e Servizi Informatici (DRSI).</text>
<text x="1360.8" y="1253.7">i. Uffici di presidenza | Segreteria studenti | aule AB, BA, da C a U | aula informatica di Ateneo.</text>
<text x="1360.8" y="1289.5">l. Aule V e Z | Dipartimento di Ingegneria Elettrica ed Elettronica (DIEE) | parcheggi.</text>
<text x="1360.8" y="1325.4">m. Dipartimento di Ingegneria Elettrica ed Elettronica (DIEE) | aule B0, B1.</text>
<text x="1360.8" y="1361.3">n<tspan dy="4.5" style="font-size:12px">1</tspan><tspan dy="-4.5">. Aule 1, 2 | laboratorio L.I.D.I.A. software e multifunzionale | parcheggi.</tspan></text>
<text x="1360.8" y="1397.2">n<tspan dy="4.5" style="font-size:12px">2</tspan><tspan dy="-4.5">. Biblioteca distretto tecnologico.</tspan></text>
</g>
</svg>
</body>
</html>
